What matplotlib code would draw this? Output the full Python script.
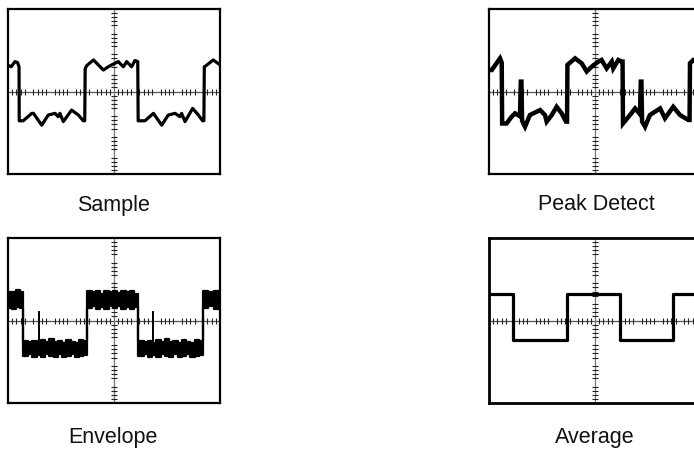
import matplotlib
matplotlib.use("Agg")
import matplotlib.pyplot as plt
import numpy as np

# ---------------- data (graticule divisions: x 0..10, y -4..4) ----------------
titles = ["Sample", "Peak Detect", "Envelope", "Average"]

sample_pts = [(-0.03, 1.29), (0.15, 1.20), (0.33, 1.45), (0.45, 1.40), (0.52, 1.20),
              (0.53, -1.42), (0.72, -1.42), (1.12, -1.06), (1.20, -1.06), (1.59, -1.63),
              (1.90, -1.14), (2.22, -1.06), (2.37, -1.22), (2.45, -1.06), (2.61, -1.46),
              (3.00, -0.90), (3.32, -1.14), (3.55, -1.42), (3.62, -1.42), (3.64, 1.10),
              (3.71, 1.25), (4.03, 1.53), (4.50, 1.04), (4.73, 1.20), (5.05, 1.37),
              (5.20, 1.45), (5.44, 1.20), (5.60, 1.45), (5.83, 1.20), (5.99, 1.50),
              (6.12, 1.45), (6.14, -1.42), (6.23, -1.42), (6.46, -1.42), (6.86, -1.06),
              (7.25, -1.63), (7.56, -1.14), (7.88, -1.06), (8.11, -1.22), (8.19, -1.06),
              (8.35, -1.46), (8.71, -0.82), (8.98, -1.14), (9.18, -1.42), (9.24, -1.42),
              (9.26, 1.20), (9.34, 1.25), (9.68, 1.53), (10.0, 1.29)]

peak_pts = [(0.05, 1.04), (0.13, 1.04), (0.52, 1.61), (0.60, 1.40), (0.62, -1.55),
            (0.83, -1.55), (1.07, -1.22), (1.23, -1.06), (1.46, -1.20), (1.50, 0.48),
            (1.53, 0.48), (1.56, -1.40), (1.62, -1.55), (1.70, -1.71), (1.93, -1.14),
            (2.41, -0.90), (2.64, -1.14), (2.72, -1.46), (2.96, -1.14), (3.19, -0.74),
            (3.43, -1.06), (3.63, -1.46), (3.68, -1.46), (3.70, 1.29), (4.06, 1.61),
            (4.37, 1.37), (4.61, 0.97), (4.84, 1.20), (5.16, 1.45), (5.31, 1.53),
            (5.55, 1.12), (5.79, 1.45), (5.86, 1.12), (6.10, 1.53), (6.26, 1.45),
            (6.30, 1.45), (6.32, -1.55), (6.65, -1.14), (6.89, -0.82), (7.12, -1.10),
            (7.16, 0.48), (7.19, 0.48), (7.22, -1.46), (7.36, -1.71), (7.59, -1.14),
            (8.07, -0.82), (8.30, -1.30), (8.69, -0.74), (9.01, -1.14), (9.40, -1.38),
            (9.46, -1.38), (9.48, 1.37), (9.64, 1.53), (10.0, 1.45)]

# envelope: (x start, top, bottom), step-post
env_pts = [(0.00, 1.40, 0.62), (0.20, 1.36, 0.58), (0.40, 1.50, 0.64), (0.55, 1.40, 0.60),
           (0.70, -0.98, -1.72), (0.95, -1.05, -1.62), (1.15, -0.98, -1.76), (1.35, -1.08, -1.68),
           (1.55, -0.95, -1.76), (1.75, -1.05, -1.62), (1.95, -0.92, -1.72), (2.15, -1.05, -1.76),
           (2.35, -0.98, -1.64), (2.55, -1.10, -1.76), (2.75, -0.95, -1.70), (2.95, -1.02, -1.62),
           (3.15, -1.10, -1.76), (3.35, -0.95, -1.70), (3.55, -1.00, -1.66),
           (3.72, 1.42, 0.62), (3.95, 1.36, 0.70), (4.15, 1.44, 0.58), (4.35, 1.30, 0.66),
           (4.55, 1.42, 0.55), (4.75, 1.36, 0.68), (4.95, 1.44, 0.60), (5.15, 1.32, 0.70),
           (5.35, 1.42, 0.56), (5.55, 1.36, 0.64), (5.75, 1.42, 0.58), (5.95, 1.30, 0.66),
           (6.15, -0.98, -1.72), (6.40, -1.05, -1.62), (6.60, -0.98, -1.76), (6.80, -1.08, -1.68),
           (7.00, -0.95, -1.76), (7.20, -1.05, -1.62), (7.40, -0.92, -1.72), (7.60, -1.05, -1.76),
           (7.80, -0.98, -1.64), (8.00, -1.10, -1.76), (8.20, -0.95, -1.70), (8.40, -1.02, -1.62),
           (8.60, -1.10, -1.76), (8.80, -0.95, -1.70), (9.00, -1.00, -1.66),
           (9.20, 1.42, 0.62), (9.45, 1.36, 0.70), (9.70, 1.44, 0.58), (10.0, 1.44, 0.58)]
env_spikes = [(1.48, 0.43), (6.86, 0.43)]

avg_x = [0.0, 1.13, 3.68, 6.18, 8.68, 10.0]
avg_y = [1.29, -0.95, 1.29, -0.95, 1.29, 1.29]

# ---------------- layout ----------------
W, H = 694, 453
fig = plt.figure(figsize=(W / 100, H / 100), dpi=100)
plt.rcParams['font.family'] = ['Liberation Sans', 'DejaVu Sans']

def box(x0, y0, w=212, h=165):
    return [x0 / W, 1 - (y0 + h) / H, w / W, h / H]

rects = [box(8, 9), box(489, 9), box(8, 238), box(489, 238)]
label_pos = [(113, 205), (596, 205), (113, 438), (595, 438)]

axes = []
for r in rects:
    ax = fig.add_axes(r)
    ax.set_xlim(0, 10)
    ax.set_ylim(-4, 4)
    ax.set_xticks([])
    ax.set_yticks([])
    for s in ax.spines.values():
        s.set_linewidth(1.6)
        s.set_color('black')
    # graticule centre lines with minor ticks
    ax.axhline(0, color='#555555', lw=0.9, zorder=1)
    ax.axvline(5, color='#777777', lw=0.9, zorder=1)
    mx = [v for v in np.arange(0.2, 10, 0.2) if abs(v - round(v)) > 0.05]
    my = [v for v in np.arange(-3.8, 4, 0.2) if abs(v - round(v)) > 0.05]
    ax.plot(mx, np.zeros(len(mx)), ls='', marker='|', ms=4.5, mew=0.8, color='#222222', zorder=1)
    ax.plot(np.full(len(my), 5.0), my, ls='', marker='_', ms=5, mew=0.8, color='#222222', zorder=1)
    axes.append(ax)

# Sample
sx, sy = zip(*sample_pts)
axes[0].plot(sx, sy, color='black', lw=2.3, solid_joinstyle='round', zorder=3)

# Peak detect
px, py = zip(*peak_pts)
axes[1].plot(px, py, color='black', lw=3.2, solid_joinstyle='miter', zorder=3)

# Envelope
ex = [p[0] for p in env_pts]
et = [p[1] for p in env_pts]
eb = [p[2] for p in env_pts]
axes[2].fill_between(ex, eb, et, step='post', color='black', lw=0, zorder=3)
axes[2].step(ex, et, where='post', color='black', lw=1.6, zorder=3)
axes[2].step(ex, eb, where='post', color='black', lw=1.6, zorder=3)
for (x, ytop) in env_spikes:
    axes[2].plot([x, x], [-1.0, ytop], color='black', lw=1.4, zorder=3)

# Average
axes[3].step(avg_x, avg_y, where='post', color='black', lw=2.3, zorder=3)
for s in axes[3].spines.values():
    s.set_linewidth(2.0)

for t, (lx, ly) in zip(titles, label_pos):
    fig.text(lx / W, 1 - ly / H, t, ha='center', va='center', fontsize=15.5, color='#111111')

fig.savefig('out.png', dpi=100)
